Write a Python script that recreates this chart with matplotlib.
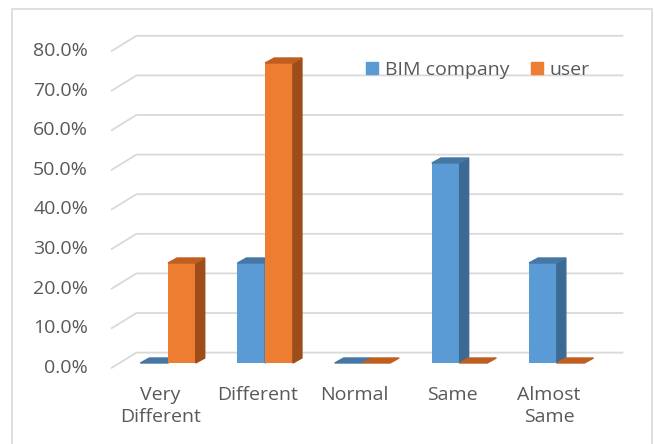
import matplotlib.pyplot as plt
from matplotlib.patches import Polygon, Rectangle
import numpy as np

plt.rcParams['font.family'] = ['Open Sans', 'DejaVu Sans']

categories = ['Very\nDifferent', 'Different', 'Normal', 'Same', 'Almost\nSame']
bim_company = [0, 25, 0, 50, 25]
user = [25, 75, 0, 0, 0]
y_ticks = [0, 10, 20, 30, 40, 50, 60, 70, 80]

BLUE = ('#5b9bd5', '#3d6a94', '#4676a3')     # front, side, top
ORANGE = ('#ed7d31', '#9e4c1a', '#bf5f1f')
TXT = '#595959'
GRID = '#d9d9d9'
FS = 14

W, H = 654, 444
fig = plt.figure(figsize=(W / 100, H / 100), dpi=100)
# axes in the "bar plane": value 0 at y=363px, 80 at y=43px
ax = fig.add_axes([119.4 / W, (H - 363) / H, 486 / W, 320 / H])
ax.set_xlim(-0.5, 4.5)
ax.set_ylim(0, 80)
ax.axis('off')

# outer chart border
fig.patches.append(Rectangle((12 / W, -0.05), (652 - 12) / W, (H - 9) / H + 0.05,
                             transform=fig.transFigure, fill=False,
                             edgecolor=GRID, lw=1.2))

# wall geometry (offsets relative to bar plane, in data units)
back_dx, back_dy = 0.175, 2.6
front_dx, front_dy = -0.079, -1.2
persp = 0.99

for v in y_ticks:
    yb = v * persp + back_dy
    yf = v * persp + front_dy
    ax.plot([-0.5 + front_dx, -0.5 + back_dx, 4.5 + back_dx], [yf, yb, yb],
            color=GRID, lw=1.3, clip_on=False, zorder=0)
    ax.annotate('%.1f%%' % v, xy=(-0.5 + front_dx, yf), xytext=(-17, 0),
                textcoords='offset points', ha='right', va='center',
                fontsize=FS, color=TXT, annotation_clip=False)

# bars with pseudo 3D faces
bw = 0.285
ddx, ddy = 0.093, 1.25
x = np.arange(len(categories))


def bar3d(x0, h, cols, z):
    front, side, top = cols
    x1 = x0 + bw
    if h > 0:
        ax.bar(x0, h, width=bw, align='edge', color=front, zorder=z)
        ax.add_patch(Polygon([(x1, 0), (x1, h), (x1 + ddx, h + ddy), (x1 + ddx, ddy)],
                             closed=True, color=side, zorder=z, clip_on=False))
    ax.add_patch(Polygon([(x0, h), (x1, h), (x1 + ddx, h + ddy), (x0 + ddx, h + ddy)],
                         closed=True, color=top, zorder=z, clip_on=False))


for i in range(len(categories)):
    bar3d(x[i] - bw, bim_company[i], BLUE, 2 + i * 2)
    bar3d(x[i], user[i], ORANGE, 3 + i * 2)

for i, c in enumerate(categories):
    ax.annotate(c, xy=(x[i] + front_dx, front_dy), xytext=(0, -13),
                textcoords='offset points', ha='center', va='top',
                fontsize=FS, color=TXT, linespacing=1.3,
                annotation_clip=False)

# legend
h1 = Rectangle((0, 0), 1, 1, color=BLUE[0])
h2 = Rectangle((0, 0), 1, 1, color=ORANGE[0])
fig.legend([h1, h2], ['BIM company', 'user'], loc='center',
           bbox_to_anchor=(478 / W, 1 - 70 / H), ncol=2, frameon=False,
           fontsize=FS, labelcolor=TXT, handlelength=0.6, handleheight=0.6,
           handletextpad=0.35, columnspacing=1.15)

fig.savefig('out.png', dpi=100, facecolor='white')
